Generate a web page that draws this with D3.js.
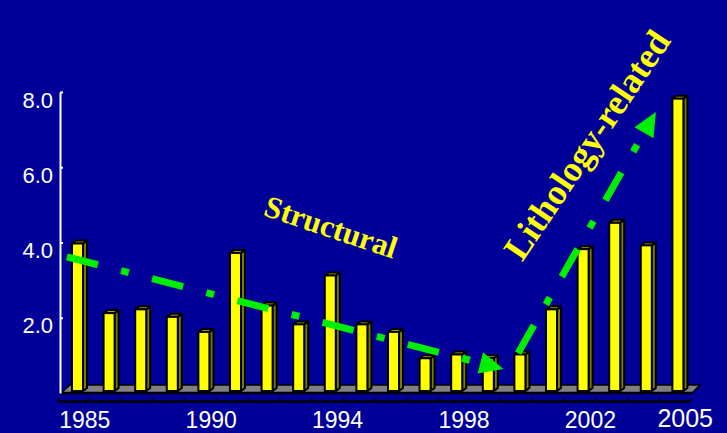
<!DOCTYPE html>
<html>
<head>
<meta charset="utf-8">
<script src="https://cdn.jsdelivr.net/npm/d3@7"></script>
<style>
  html, body { margin: 0; padding: 0; background: #000099; }
  svg { display: block; }
</style>
</head>
<body>
<svg id="chart" width="727" height="433"></svg>
<script>
// Twenty yearly periods, one bar each
const categories = ["1","2","3","4","5","6","7","8","9","10",
                    "11","12","13","14","15","16","17","18","19","20"];
const values = [4.0, 2.15, 2.25, 2.05, 1.65, 3.75, 2.35, 1.85, 3.15, 1.85,
                1.65, 0.95, 1.05, 0.95, 1.05, 2.25, 3.85, 4.55, 3.95, 7.85];

// Axis labels
const tickLabels = ["1985", "1990", "1994", "1998", "2002", "2005"];
const tickSlots  = ["1", "5", "9", "13", "17", "20"];
const yTicks = [2, 4, 6, 8];

// Trend arrows, in [bar index, value] units: start, arrow tip
const structuralTrend = [[-0.22, 3.62], [13.6, 0.64]];
const lithologyTrend  = [[14.06, 1.06], [18.42, 7.47]];
const trendNames = ["Structural", "Lithology-related"];

const svg = d3.select("#chart");
const W = 727, H = 433;
svg.append("rect").attr("width", W).attr("height", H).attr("fill", "#000099");

const left = 58, right = 690;
const x = d3.scaleBand().domain(categories).range([left, right]).paddingInner(0).paddingOuter(0);
const xEdge = d3.scaleLinear().domain([0, categories.length]).range([left, right]);
const xi = d3.scaleLinear().domain([-0.5, categories.length - 0.5]).range([left, right]);
const y = d3.scaleLinear().domain([0, 8]).range([393, 92]);

// Floor of the 3D plot
const floorFront = y(0), floorBack = y(0) - 8, floorDx = 9;
const fl = xEdge(0) + 3, fr = xEdge(categories.length) + 2;
svg.append("polygon")
  .attr("points", [[fl, floorFront], [fl + floorDx, floorBack], [fr + floorDx - 1, floorBack], [fr, floorFront]].join(" "))
  .attr("fill", "#808080").attr("stroke", "#000").attr("stroke-width", 1.5).attr("stroke-linejoin", "round");
svg.append("line")
  .attr("x1", fl).attr("x2", fr).attr("y1", floorFront).attr("y2", floorFront)
  .attr("stroke", "#000").attr("stroke-width", 2.5);

// Bottom axis with boundary ticks
const xAxis = svg.append("g").attr("transform", `translate(0,${y(0) + 8})`)
  .call(d3.axisBottom(xEdge).tickValues(d3.range(categories.length + 1)).tickSize(-3).tickSizeOuter(0).tickFormat(""));
xAxis.select(".domain").attr("stroke", "#000").attr("stroke-width", 2.5);
xAxis.selectAll(".tick line").attr("stroke", "#000").attr("stroke-width", 1.5);

// Y axis
const yAxis = svg.append("g").attr("transform", `translate(${left + 2},0)`)
  .call(d3.axisLeft(y).tickValues(yTicks).tickSize(-3).tickSizeOuter(0).tickFormat(d3.format(".1f")));
yAxis.select(".domain").attr("stroke", "#fff").attr("stroke-width", 2);
yAxis.selectAll(".tick line").attr("stroke", "#fff").attr("stroke-width", 2);
yAxis.selectAll(".tick text")
  .attr("x", -7).attr("dy", "0.32em").attr("transform", "translate(0,8)")
  .attr("fill", "#fff").attr("font-family", "'Liberation Sans', Arial, sans-serif")
  .attr("font-size", 22).attr("text-anchor", "end");

// 3D bars
const dx = 4, dy = 3, fw = 11;
const bars = svg.append("g").selectAll("g").data(categories).join("g");
bars.each(function (c, i) {
  const g = d3.select(this);
  const x0 = x(c) + 14, x1 = x0 + fw;
  const yt = y(values[i]) + 1, yb = y(0) - 2;
  g.append("polygon")
    .attr("points", [[x1, yt], [x1 + dx, yt - dy], [x1 + dx, yb - dy], [x1, yb]].join(" "))
    .attr("fill", "#7a7a00").attr("stroke", "#000").attr("stroke-width", 2).attr("stroke-linejoin", "round");
  g.append("polygon")
    .attr("points", [[x0, yt], [x0 + dx, yt - dy], [x1 + dx, yt - dy], [x1, yt]].join(" "))
    .attr("fill", "#a8a800").attr("stroke", "#000").attr("stroke-width", 2).attr("stroke-linejoin", "round");
  g.append("rect")
    .attr("x", x0).attr("y", yt).attr("width", fw).attr("height", yb - yt)
    .attr("fill", "#ffff00").attr("stroke", "#000").attr("stroke-width", 2);
});

// Category labels
svg.append("g").selectAll("text").data(tickLabels).join("text")
  .attr("x", (d, i) => x(tickSlots[i]) + x.bandwidth() / 2 + 11)
  .attr("y", (d, i) => i === tickLabels.length - 1 ? 427 : 428)
  .attr("text-anchor", "middle")
  .attr("font-family", "'Liberation Sans', Arial, sans-serif")
  .attr("font-size", (d, i) => i === tickLabels.length - 1 ? 25 : 23)
  .attr("fill", "#fff")
  .text(d => d);

// Dash-dot trend arrows
function trendArrow(pts) {
  const [p, q] = pts.map(d => [xi(d[0]), y(d[1])]);
  const len = Math.hypot(q[0] - p[0], q[1] - p[1]);
  const ux = (q[0] - p[0]) / len, uy = (q[1] - p[1]) / len;
  const head = 24, half = 11;
  const bx = q[0] - ux * head, by = q[1] - uy * head;
  svg.append("line")
    .attr("x1", p[0]).attr("y1", p[1]).attr("x2", bx).attr("y2", by)
    .attr("stroke", "#00ee00").attr("stroke-width", 7)
    .attr("stroke-dasharray", "32,24,8,24").attr("stroke-linecap", "butt");
  svg.append("polygon")
    .attr("points", [[q[0], q[1]], [bx - uy * half, by + ux * half], [bx + uy * half, by - ux * half]].join(" "))
    .attr("fill", "#00ee00");
}
trendArrow(structuralTrend);
trendArrow(lithologyTrend);

// Trend captions
const captions = [
  { text: trendNames[0], cx: 331, cy: 227, angle: 18.5, size: 31 },
  { text: trendNames[1], cx: 587, cy: 145, angle: -56, size: 36 }
];
svg.append("g").selectAll("text").data(captions).join("text")
  .attr("transform", d => `translate(${d.cx},${d.cy}) rotate(${d.angle})`)
  .attr("text-anchor", "middle").attr("dominant-baseline", "central")
  .attr("font-family", "'Liberation Serif', 'Times New Roman', serif")
  .attr("font-weight", "bold").attr("font-size", d => d.size)
  .attr("fill", "#ffff00")
  .text(d => d.text);
</script>
</body>
</html>
